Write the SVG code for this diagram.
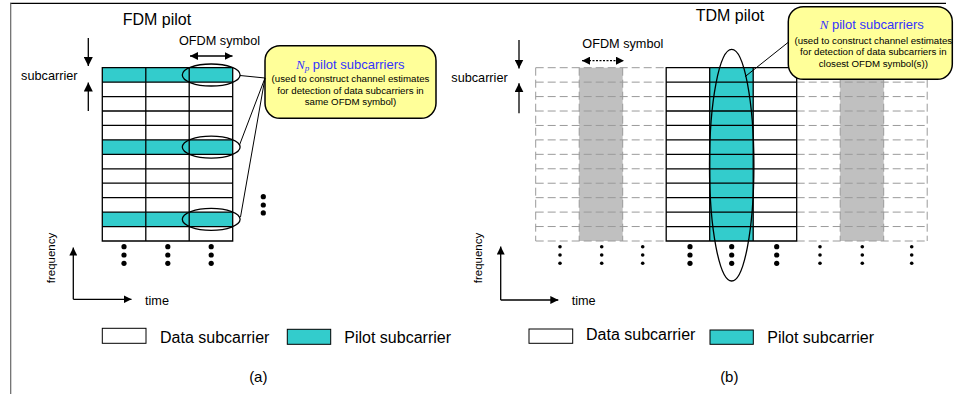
<svg xmlns="http://www.w3.org/2000/svg" width="954" height="394" viewBox="0 0 954 394">
<style>
text{font-family:"Liberation Sans",Arial,sans-serif;fill:#000}
.t16{font-size:16px}
.t13{font-size:12.7px}
.t11{font-size:11.5px}
.cap{font-size:9.7px;text-anchor:middle}
.head{font-size:13px;fill:#3333ff;text-anchor:middle}
.nit{font-family:"Liberation Serif","Times New Roman",serif;font-style:italic;fill:#3333ff}
.ln{stroke:#000;stroke-width:1.3;fill:none}
.cell{stroke:#000;stroke-width:1.3}
.dash{stroke:#9a9a9a;stroke-width:1;stroke-dasharray:8,4;fill:none}
.call{fill:#ffff99;stroke:#000;stroke-width:1.5}
.ell{fill:none;stroke:#000;stroke-width:1.3}
.thin{stroke:#000;stroke-width:1;fill:none}
</style>
<defs>
<marker id="ah" viewBox="0 0 10 10" refX="10" refY="5" markerWidth="9" markerHeight="9" orient="auto-start-reverse" markerUnits="userSpaceOnUse"><path d="M0,0 L10,5 L0,10 z" fill="#000"/></marker>
<marker id="ahs" viewBox="0 0 10 10" refX="10" refY="5" markerWidth="8" markerHeight="8" orient="auto-start-reverse" markerUnits="userSpaceOnUse"><path d="M0,0 L10,5 L0,10 z" fill="#000"/></marker>
</defs>

<g id="frame">
<line x1="10" y1="3.3" x2="946" y2="3.3" stroke="#000" stroke-width="1.3"/>
<line x1="10.7" y1="3" x2="10.7" y2="394" stroke="#666" stroke-width="1.2"/>
</g>

<!-- ===== (a) FDM pilot ===== -->
<g id="title-a"><text class="t16" x="156.9" y="25" text-anchor="middle">FDM pilot</text></g>
<g id="ofdm-label-a">
<text class="t13" x="219.5" y="44.5" text-anchor="middle">OFDM symbol</text>
<line class="ln" x1="190" y1="56" x2="232.5" y2="56" marker-start="url(#ahs)" marker-end="url(#ahs)"/>
</g>
<g id="subcarrier-label-a">
<text class="t13" x="49.3" y="80" text-anchor="middle">subcarrier</text>
<line class="ln" x1="88.3" y1="38" x2="88.3" y2="66" marker-end="url(#ah)"/>
<line class="ln" x1="88.3" y1="111" x2="88.3" y2="82.5" marker-end="url(#ah)"/>
</g>
<g id="grid-a">
<rect x="102.3" y="67.7" width="130.4" height="173.3" fill="#fff"/>
<rect x="102.3" y="67.7" width="130.4" height="14.44" fill="#33cccc"/>
<rect x="102.3" y="139.9" width="130.4" height="14.44" fill="#33cccc"/>
<rect x="102.3" y="212.1" width="130.4" height="14.44" fill="#33cccc"/>
<path class="ln" d="M102.3,67.7H232.7V241H102.3Z M145.8,67.7V241 M189.2,67.7V241 M102.3,82.14H232.7 M102.3,96.58H232.7 M102.3,111.02H232.7 M102.3,125.46H232.7 M102.3,139.9H232.7 M102.3,154.34H232.7 M102.3,168.78H232.7 M102.3,183.22H232.7 M102.3,197.66H232.7 M102.3,212.1H232.7 M102.3,226.54H232.7"/>
<ellipse class="ell" cx="211.2" cy="75" rx="28.9" ry="11"/>
<ellipse class="ell" cx="211.2" cy="147.1" rx="28.9" ry="11"/>
<ellipse class="ell" cx="211.2" cy="219.3" rx="28.9" ry="11"/>
</g>
<g id="dots-a" fill="#000">
<circle cx="263.3" cy="196.7" r="2.6"/><circle cx="263.3" cy="205" r="2.6"/><circle cx="263.3" cy="212.9" r="2.6"/>
<circle cx="124" cy="246.7" r="2.6"/><circle cx="124" cy="255" r="2.6"/><circle cx="124" cy="263.3" r="2.6"/>
<circle cx="167.8" cy="246.7" r="2.6"/><circle cx="167.8" cy="255" r="2.6"/><circle cx="167.8" cy="263.3" r="2.6"/>
<circle cx="211.2" cy="246.7" r="2.6"/><circle cx="211.2" cy="255" r="2.6"/><circle cx="211.2" cy="263.3" r="2.6"/>
</g>
<g id="callout-a">
<rect class="call" x="265" y="45.7" width="171" height="72.6" rx="15" ry="15"/>
<text class="head" x="350.3" y="68.5"><tspan class="nit">N</tspan><tspan class="nit" font-size="9" dy="2">p</tspan><tspan dy="-2"> pilot subcarriers</tspan></text>
<text class="cap" x="350.5" y="82">(used to construct channel estimates</text>
<text class="cap" x="350.5" y="93.8">for detection of data subcarriers in</text>
<text class="cap" x="350.5" y="105.3">same OFDM symbol)</text>
</g>
<g id="axes-a">
<path class="ln" d="M73.3,299.3V247.5" marker-end="url(#ahs)"/>
<path class="ln" d="M73.3,299.3H131.5" marker-end="url(#ahs)"/>
<text class="t11" transform="translate(55,258) rotate(-90)" text-anchor="middle">frequency</text>
<text class="t13" x="145" y="305.3">time</text>
</g>
<g id="legend-a">
<rect x="102.3" y="328.3" width="43.7" height="15" fill="#fff" stroke="#000" stroke-width="1"/>
<text class="t16" x="160" y="342.6">Data subcarrier</text>
<rect x="287.3" y="329.3" width="43.4" height="15" fill="#33cccc" stroke="#000" stroke-width="1"/>
<text class="t16" x="344.3" y="343">Pilot subcarrier</text>
</g>
<g id="label-a"><text x="258.3" y="382" font-size="15" text-anchor="middle">(a)</text></g>

<!-- ===== (b) TDM pilot ===== -->
<g id="title-b"><text class="t16" x="730" y="20.5" text-anchor="middle">TDM pilot</text></g>
<g id="ofdm-label-b">
<text class="t13" x="622.8" y="47.8" text-anchor="middle">OFDM symbol</text>
<line x1="582" y1="60.7" x2="624" y2="60.7" stroke="#000" stroke-width="1.2" stroke-dasharray="2,1.5" marker-start="url(#ahs)" marker-end="url(#ahs)"/>
</g>
<g id="subcarrier-label-b">
<text class="t13" x="507.7" y="81.5" text-anchor="end">subcarrier</text>
<line class="ln" x1="519" y1="40" x2="519" y2="68.5" marker-end="url(#ah)"/>
<line class="ln" x1="519" y1="113.3" x2="519" y2="83.3" marker-end="url(#ah)"/>
</g>
<g id="grid-b">
<rect x="579.2" y="67.7" width="43.5" height="173.3" fill="#c0c0c0"/>
<rect x="840.2" y="67.7" width="43.5" height="173.3" fill="#c0c0c0"/>
<path class="dash" d="M535.7,67.7H666.2 M535.7,82.14H666.2 M535.7,96.58H666.2 M535.7,111.02H666.2 M535.7,125.46H666.2 M535.7,139.9H666.2 M535.7,154.34H666.2 M535.7,168.78H666.2 M535.7,183.22H666.2 M535.7,197.66H666.2 M535.7,212.1H666.2 M535.7,226.54H666.2 M535.7,241H666.2"/>
<path class="dash" d="M796.7,67.7H927.2 M796.7,82.14H927.2 M796.7,96.58H927.2 M796.7,111.02H927.2 M796.7,125.46H927.2 M796.7,139.9H927.2 M796.7,154.34H927.2 M796.7,168.78H927.2 M796.7,183.22H927.2 M796.7,197.66H927.2 M796.7,212.1H927.2 M796.7,226.54H927.2 M796.7,241H927.2"/>
<path class="dash" stroke-dasharray="10,4.44" d="M535.7,67.7V241 M579.2,67.7V241 M622.7,67.7V241 M840.2,67.7V241 M883.7,67.7V241 M927.2,67.7V241"/>
<rect x="666.2" y="67.7" width="130.5" height="173.3" fill="#fff"/>
<rect x="709.7" y="67.7" width="43.5" height="173.3" fill="#33cccc"/>
<path class="ln" d="M666.2,67.7H796.7V241H666.2Z M709.7,67.7V241 M753.2,67.7V241 M666.2,82.14H796.7 M666.2,96.58H796.7 M666.2,111.02H796.7 M666.2,125.46H796.7 M666.2,139.9H796.7 M666.2,154.34H796.7 M666.2,168.78H796.7 M666.2,183.22H796.7 M666.2,197.66H796.7 M666.2,212.1H796.7 M666.2,226.54H796.7"/>
<ellipse class="ell" cx="731.7" cy="165.2" rx="22.2" ry="115.8"/>
</g>
<g id="dots-b" fill="#000">
<circle cx="560" cy="246.7" r="1.8"/><circle cx="560" cy="255" r="1.8"/><circle cx="560" cy="263.3" r="1.8"/>
<circle cx="601.7" cy="246.7" r="1.8"/><circle cx="601.7" cy="255" r="1.8"/><circle cx="601.7" cy="263.3" r="1.8"/>
<circle cx="642.7" cy="246.7" r="1.8"/><circle cx="642.7" cy="255" r="1.8"/><circle cx="642.7" cy="263.3" r="1.8"/>
<circle cx="690" cy="246.7" r="2.6"/><circle cx="690" cy="255" r="2.6"/><circle cx="690" cy="263.3" r="2.6"/>
<circle cx="731.7" cy="246.7" r="2.6"/><circle cx="731.7" cy="255" r="2.6"/><circle cx="731.7" cy="263.3" r="2.6"/>
<circle cx="776.7" cy="246.7" r="2.6"/><circle cx="776.7" cy="255" r="2.6"/><circle cx="776.7" cy="263.3" r="2.6"/>
<circle cx="820" cy="246.7" r="1.8"/><circle cx="820" cy="255" r="1.8"/><circle cx="820" cy="263.3" r="1.8"/>
<circle cx="862.3" cy="246.7" r="1.8"/><circle cx="862.3" cy="255" r="1.8"/><circle cx="862.3" cy="263.3" r="1.8"/>
<circle cx="911.7" cy="246.7" r="1.8"/><circle cx="911.7" cy="255" r="1.8"/><circle cx="911.7" cy="263.3" r="1.8"/>
</g>
<g id="callout-b">
<rect class="call" x="788.3" y="6.7" width="164" height="72.6" rx="15" ry="15"/>
<text class="head" x="871.7" y="29.3"><tspan class="nit">N</tspan><tspan> pilot subcarriers</tspan></text>
<text class="cap" x="873.3" y="43.5">(used to construct channel estimates</text>
<text class="cap" x="873.3" y="55">for detection of data subcarriers in</text>
<text class="cap" x="873.3" y="66.5">closest OFDM symbol(s))</text>
</g>
<g id="axes-b">
<path class="ln" d="M500.7,300V246.5" marker-end="url(#ahs)"/>
<path class="ln" d="M500.7,300H558.3" marker-end="url(#ahs)"/>
<text class="t11" transform="translate(482,258) rotate(-90)" text-anchor="middle">frequency</text>
<text class="t13" x="571.7" y="305.3">time</text>
</g>
<g id="legend-b">
<rect x="529" y="329" width="43.7" height="14.3" fill="#fff" stroke="#000" stroke-width="1"/>
<text class="t16" x="586" y="340">Data subcarrier</text>
<rect x="710" y="330" width="43.3" height="14.3" fill="#33cccc" stroke="#000" stroke-width="1"/>
<text class="t16" x="767.3" y="343.3">Pilot subcarrier</text>
</g>
<g id="label-b"><text x="729.3" y="382" font-size="15" text-anchor="middle">(b)</text></g>

<g id="connectors">
<path class="thin" d="M240,75.5 L265,78"/>
<path class="thin" d="M239.5,145 L265,78"/>
<path class="thin" d="M240.5,217 L265,78"/>
<path class="thin" d="M745,76.7 L789,41.7"/>
</g>
</svg>
